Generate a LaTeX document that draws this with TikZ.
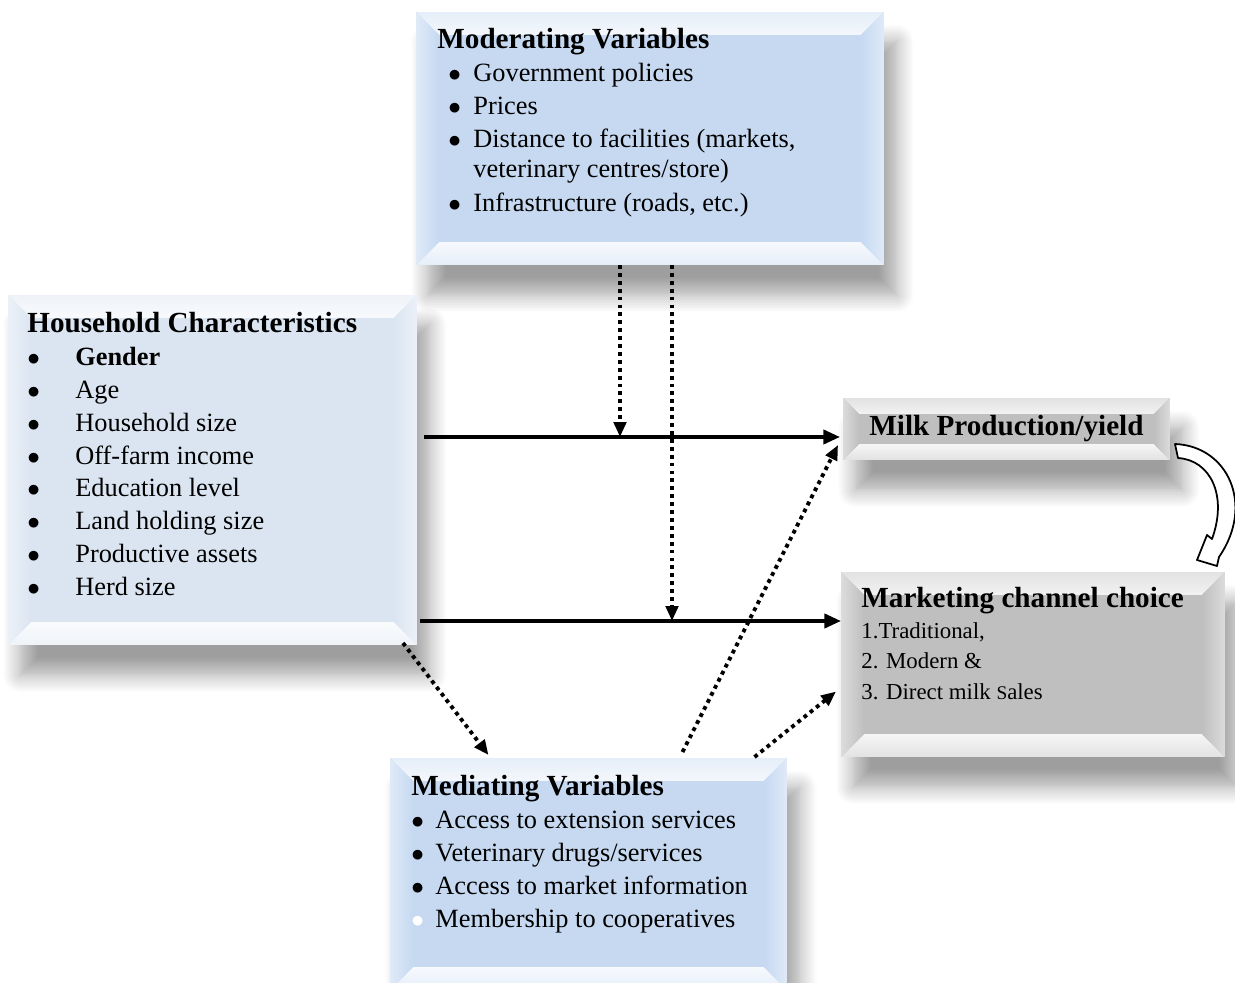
\documentclass[tikz,border=0pt]{standalone}
\usepackage{fontspec}
\setmainfont{Liberation Serif}
\usetikzlibrary{arrows.meta, positioning, shadows.blur}

\definecolor{modblue}{HTML}{C6D9F1}
\definecolor{hhblue}{HTML}{DBE5F1}
\definecolor{boxgrey}{HTML}{BFBFBF}

\newcommand{\hd}[1]{{\fontsize{16.6}{18.7}\selectfont\bfseries #1}}
\newcommand{\mitem}{\hspace{0.22cm}\makebox[0.5cm][l]{$\bullet$}}
\newcommand{\hitem}{\makebox[0.96cm][l]{$\bullet$}}
\newcommand{\ditem}{\makebox[0.48cm][l]{$\bullet$}}

\tikzset{
	x=0.02cm, y=-0.02cm,
	bevel/.style 2 args={fill=#1, inner sep=0pt, outer sep=0pt,
		blur shadow={shadow xshift=7pt, shadow yshift=-17pt, shadow blur radius=10pt, shadow opacity=38, shadow blur steps=12},
		path picture={
			\coordinate (bnw) at (path picture bounding box.north west);
			\coordinate (bne) at (path picture bounding box.north east);
			\coordinate (bsw) at (path picture bounding box.south west);
			\coordinate (bse) at (path picture bounding box.south east);
			\shade[top color=#1!45!white, bottom color=#1!20!white]
				(bnw) -- (bne) -- ([shift={(-#2,-#2)}]bne) -- ([shift={(#2,-#2)}]bnw) -- cycle;
			\shade[top color=#1!15!white, bottom color=#1!45!white]
				(bsw) -- (bse) -- ([shift={(-#2,#2)}]bse) -- ([shift={(#2,#2)}]bsw) -- cycle;
			\shade[left color=#1!55!white, right color=#1]
				(bnw) -- ([shift={(#2,-#2)}]bnw) -- ([shift={(#2,#2)}]bsw) -- (bsw) -- cycle;
			\shade[left color=#1, right color=#1!55!white]
				(bne) -- ([shift={(-#2,-#2)}]bne) -- ([shift={(-#2,#2)}]bse) -- (bse) -- cycle;
		}},
	txt/.style={anchor=north west, inner sep=0pt, align=left, font=\fontsize{15}{18.7}\selectfont},
	solid arrow/.style={-{Triangle[length=9.5pt,width=8pt]}, line width=2.2pt},
	dot arrow/.style={-{Triangle[length=8.5pt,width=7pt]}, line width=2.2pt, dash pattern=on 2.2pt off 2.3pt}
}

\begin{document}
\begin{tikzpicture}
	\useasboundingbox (0,0) rectangle (1235,983);
	
	% boxes
	\node[bevel={modblue}{13pt}, minimum width=9.36cm, minimum height=5.06cm] (mod) at (650,138.5) {};
	\node[bevel={hhblue}{13pt}, minimum width=8.18cm, minimum height=7cm] (hh) at (212.5,470) {};
	\node[bevel={boxgrey}{9pt}, minimum width=6.54cm, minimum height=1.24cm] (milk) at (1006.5,429) {};
	\node[bevel={boxgrey}{13pt}, minimum width=7.68cm, minimum height=3.7cm] (mkt) at (1033,664.5) {};
	\node[bevel={modblue}{13pt}, minimum width=7.94cm, minimum height=4.64cm] (med) at (588.5,874) {};
	
	% texts
	\node[txt] (modtxt) at ([shift={(21,16)}]mod.north west) {\hd{Moderating Variables}\\
		\mitem Government policies\\
		\mitem Prices\\
		\mitem Distance to facilities (markets,\\[-1.7pt]
		\hspace{0.72cm}veterinary centres/store)\\[1pt]
		\mitem Infrastructure (roads, etc.)};
	\node[txt] (hhtxt) at ([shift={(19,17)}]hh.north west) {\hd{Household Characteristics}\\
		\hitem\textbf{Gender}\\
		\hitem Age\\
		\hitem Household size\\
		\hitem Off-farm income\\
		\hitem Education level\\
		\hitem Land holding size\\
		\hitem Productive assets\\
		\hitem Herd size};
	\node[txt] (milktxt) at ([shift={(26,17)}]milk.north west) {\hd{Milk Production/yield}};
	\node[txt, font=\fontsize{13}{17}\selectfont] (mkttxt) at ([shift={(20,15)}]mkt.north west) {\hd{Marketing channel choice}\\[0.6pt]
		1.Traditional,\\
		2. Modern \&\\[0.6pt]
		3. Direct milk {\fontsize{11}{12}\selectfont S}ales};
	\node[txt] (medtxt) at ([shift={(21,17)}]med.north west) {\hd{Mediating Variables}\\
		\ditem Access to extension services\\
		\ditem Veterinary drugs/services\\
		\ditem Access to market information\\
		\makebox[0.48cm][l]{\textcolor{white}{$\bullet$}}Membership to cooperatives};
	
	% connectors
	\coordinate (p1) at ([shift={(7,-33)}]hh.east);
	\coordinate (p2) at ([shift={(3,151)}]hh.east);
	\coordinate (m1) at ([shift={(-30,0)}]mod.south);
	\coordinate (m2) at ([shift={(22,0)}]mod.south);
	\draw[solid arrow] (p1) -- ([shift={(-3,0)}]p1 -| milk.west);
	\draw[solid arrow] (p2) -- (p2 -| mkt.west);
	\draw[dot arrow] (m1) -- (m1 |- p1);
	\draw[dot arrow] (m2) -- (m2 |- p2);
	\draw[dot arrow] ([shift={(-14,-2)}]hh.south east) -- ([shift={(-100,-3)}]med.north);
	\draw[dot arrow] ([shift={(94,-6)}]med.north) -- ([shift={(-5,-15)}]milk.south west);
	\draw[dot arrow] ([shift={(166,-1)}]med.north) -- ([shift={(-5,27)}]mkt.west);
	
	% curved block arrow
	\draw[fill=white, line width=1pt, line join=round]
		(1175,444) .. controls (1228,446) and (1255,505) .. (1219,557)
		-- (1217,566) -- (1197,560) -- (1207,535) -- (1212,539)
		.. controls (1228,495) and (1210,460) .. (1178,458) -- cycle;
\end{tikzpicture}
\end{document}
